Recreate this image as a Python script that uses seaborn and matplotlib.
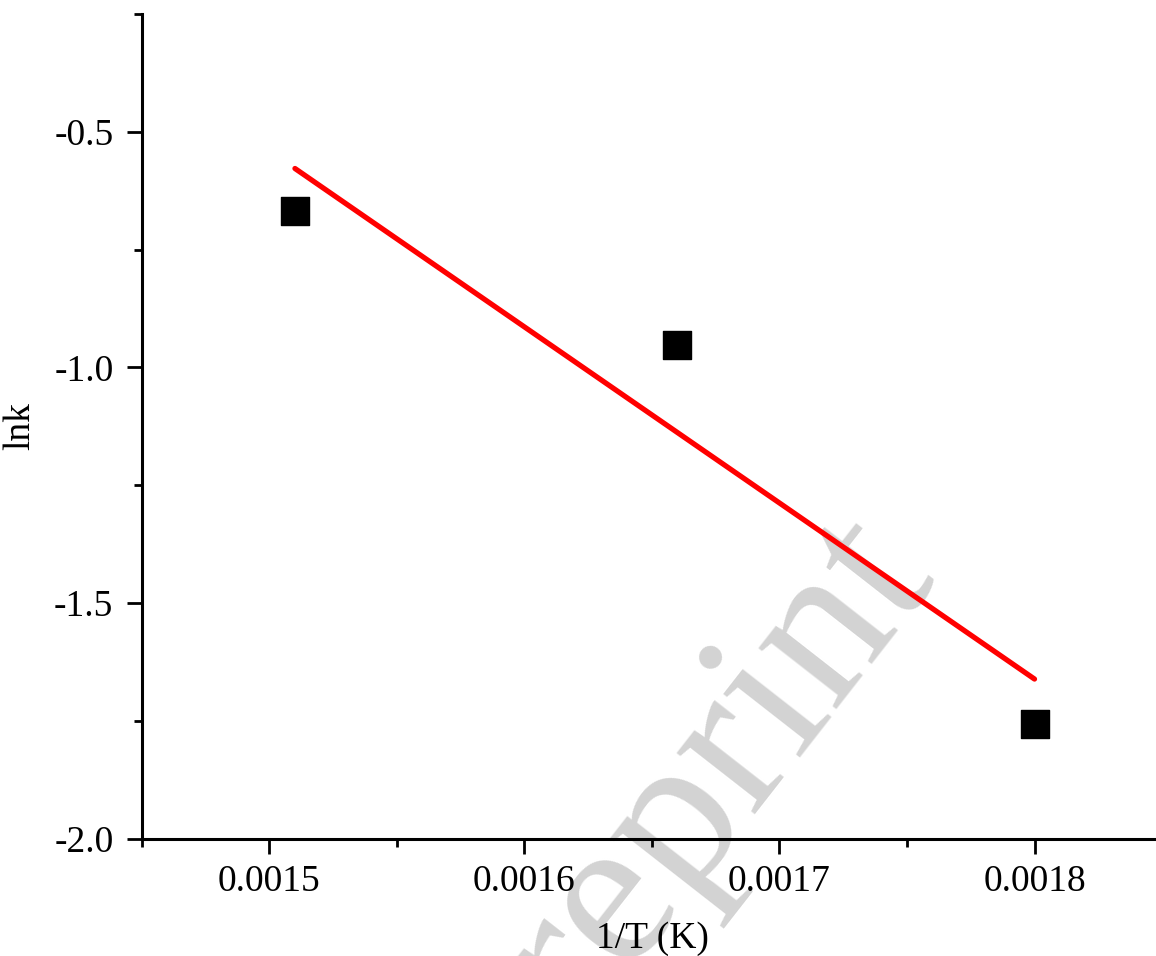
import numpy as np
import pandas as pd
import seaborn as sns
import matplotlib
matplotlib.use("Agg")
import matplotlib.pyplot as plt
from matplotlib.ticker import MultipleLocator, FormatStrFormatter

# Data
inv_T = [0.00151, 0.00166, 0.00180]
lnk = [-0.668, -0.952, -1.758]

x_ticks = [0.0015, 0.0016, 0.0017, 0.0018]
y_ticks = [-2.0, -1.5, -1.0, -0.5]
x_label = "1/T (K)"
y_label = "lnk"
watermark = "Preprint"

df = pd.DataFrame({"invT": inv_T, "lnk": lnk})

sns.set_theme(style="ticks")
plt.rcParams["font.family"] = ["Liberation Serif", "DejaVu Serif"]

fig = plt.figure(figsize=(11.56, 9.56), dpi=100)
ax = fig.add_axes([0.1228, 0.1229, 0.8824, 0.8625])
ax.patch.set_alpha(0)

fig.text(936 / 1156, 1 - 575 / 956, watermark, rotation=52, rotation_mode="anchor",
         ha="right", va="baseline", fontsize=156, color="#d3d3d3",
         family="Liberation Serif", zorder=-1)

sns.regplot(data=df, x="invT", y="lnk", ax=ax, ci=None, marker="s",
            scatter_kws=dict(s=400, color="black", edgecolor="black", linewidths=1, alpha=1, zorder=3),
            line_kws=dict(color="red", lw=3.8, zorder=2))

ax.set_xlim(0.00145, 0.00185)
ax.set_ylim(-2.0, -0.25)
ax.set_xticks(x_ticks)
ax.set_yticks(y_ticks)
ax.xaxis.set_major_formatter(FormatStrFormatter("%.4f"))
ax.yaxis.set_major_formatter(FormatStrFormatter("%.1f"))
ax.xaxis.set_minor_locator(MultipleLocator(0.00005))
ax.yaxis.set_minor_locator(MultipleLocator(0.25))

for side in ["top", "right"]:
    ax.spines[side].set_visible(False)
for side in ["left", "bottom"]:
    ax.spines[side].set_linewidth(2.2)
    ax.spines[side].set_color("black")

ax.tick_params(which="major", direction="out", length=10.5, width=2, colors="black", labelsize=27)
ax.tick_params(which="minor", direction="out", length=5.5, width=2, colors="black")
ax.tick_params(axis="x", which="major", pad=8)
ax.tick_params(axis="y", which="major", pad=10)

ax.set_xlabel(x_label, fontsize=27, labelpad=16, color="black")
ax.set_ylabel(y_label, fontsize=27, labelpad=12, color="black")
ax.grid(False)

fig.savefig("out.png", dpi=100)
